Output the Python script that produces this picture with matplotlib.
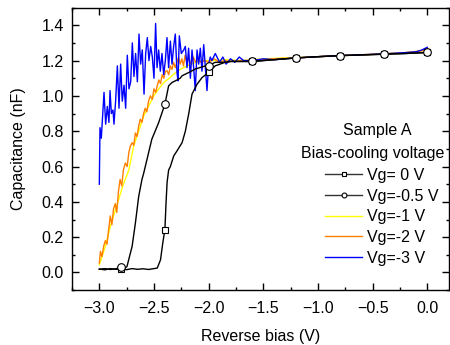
import matplotlib
matplotlib.use("Agg")
import matplotlib.pyplot as plt
import numpy as np

plt.rcParams['font.family'] = ['Liberation Sans', 'DejaVu Sans']
plt.rcParams['font.size'] = 11.5

# Vg = 0 V (black, squares)
v0_x = [-3.00, -2.95, -2.90, -2.85, -2.80, -2.75, -2.70, -2.65, -2.60, -2.55, -2.50,
        -2.47, -2.44, -2.42, -2.40, -2.39, -2.38, -2.366, -2.35, -2.32, -2.29, -2.243,
        -2.213, -2.183, -2.152, -2.106, -2.06, -2.00, -1.94, -1.85, -1.80, -1.60,
        -1.40, -1.20, -1.00, -0.80, -0.60, -0.40, -0.20, 0.00]
v0_y = [0.020, 0.015, 0.022, 0.018, 0.020, 0.016, 0.022, 0.018, 0.021, 0.017, 0.022,
        0.025, 0.072, 0.165, 0.243, 0.39, 0.51, 0.58, 0.60, 0.659, 0.688, 0.735,
        0.80, 0.896, 1.01, 1.066, 1.104, 1.133, 1.17, 1.19, 1.195, 1.195,
        1.205, 1.215, 1.222, 1.228, 1.232, 1.236, 1.240, 1.246]

# Vg = -0.5 V (black, circles)
v05_x = [-3.00, -2.95, -2.90, -2.85, -2.80, -2.77, -2.747, -2.70, -2.67, -2.64, -2.61,
         -2.595, -2.564, -2.52, -2.457, -2.40, -2.366, -2.335, -2.305, -2.26, -2.243,
         -2.18, -2.122, -2.03, -2.00, -1.94, -1.85, -1.80, -1.60, -1.40, -1.20, -1.00,
         -0.80, -0.60, -0.40, -0.20, 0.00]
v05_y = [0.018, 0.022, 0.017, 0.021, 0.030, 0.022, 0.034, 0.148, 0.28, 0.43, 0.527,
         0.56, 0.64, 0.754, 0.849, 0.953, 1.057, 1.076, 1.085, 1.10, 1.114,
         1.133, 1.152, 1.17, 1.172, 1.19, 1.19, 1.195, 1.195, 1.205, 1.215, 1.222,
         1.228, 1.232, 1.236, 1.240, 1.246]

# Vg = -1 V (yellow)
v1_x = [-3.00, -2.97, -2.94, -2.90, -2.86, -2.82, -2.78, -2.73, -2.686, -2.64, -2.595,
        -2.55, -2.503, -2.45, -2.41, -2.36, -2.32, -2.26, -2.20, -2.12, -2.05, -1.95,
        -1.85, -1.70, -1.50, -1.30, -1.00, -0.70, -0.40, -0.20, -0.05, 0.00]
v1_y = [0.044, 0.10, 0.16, 0.26, 0.34, 0.42, 0.50, 0.58, 0.716, 0.80, 0.886,
        0.94, 1.00, 1.045, 1.076, 1.10, 1.123, 1.15, 1.17, 1.19, 1.20, 1.20,
        1.205, 1.20, 1.21, 1.215, 1.222, 1.23, 1.238, 1.245, 1.255, 1.27]

# Vg = -2 V (orange)
v2_x = [-3.00, -2.99, -2.976, -2.96, -2.945, -2.93, -2.915, -2.90, -2.885, -2.87,
        -2.854, -2.84, -2.825, -2.81, -2.795, -2.78, -2.762, -2.745, -2.73, -2.716,
        -2.70, -2.685, -2.67, -2.655, -2.64, -2.625, -2.61, -2.595, -2.58, -2.565,
        -2.55, -2.533, -2.515, -2.50, -2.485, -2.47, -2.455, -2.44, -2.425, -2.41,
        -2.395, -2.38, -2.365, -2.35, -2.335, -2.32, -2.305, -2.29, -2.275, -2.26,
        -2.245, -2.23, -2.215, -2.20, -2.18, -2.16, -2.14, -2.12, -2.10, -2.07,
        -2.04, -2.00, -1.95, -1.90, -1.85, -1.80, -1.70, -1.60, -1.50, -1.40,
        -1.20, -1.00, -0.80, -0.60, -0.40, -0.20, -0.05, 0.00]
v2_y = [0.053, 0.12, 0.09, 0.15, 0.18, 0.16, 0.24, 0.32, 0.27, 0.36,
        0.39, 0.34, 0.46, 0.527, 0.49, 0.58, 0.62, 0.60, 0.68, 0.716,
        0.735, 0.72, 0.79, 0.77, 0.83, 0.868, 0.85, 0.90, 0.93, 0.91,
        0.97, 1.00, 0.98, 1.04, 1.02, 1.057, 1.09, 1.07, 1.12, 1.10,
        1.14, 1.142, 1.12, 1.17, 1.15, 1.19, 1.16, 1.19, 1.22, 1.18,
        1.21, 1.17, 1.23, 1.19, 1.21, 1.18, 1.22, 1.19, 1.21, 1.19,
        1.20, 1.19, 1.21, 1.19, 1.20, 1.195, 1.20, 1.20, 1.205, 1.21,
        1.215, 1.222, 1.228, 1.233, 1.238, 1.245, 1.255, 1.27]

# Vg = -3 V (blue)
v3_x = [-3.000, -2.994, -2.982, -2.957, -2.942, -2.927, -2.912, -2.902, -2.890,
        -2.875, -2.866, -2.851, -2.835, -2.820, -2.805, -2.790, -2.774, -2.759,
        -2.744, -2.729, -2.713, -2.698, -2.683, -2.668, -2.652, -2.637, -2.622,
        -2.607, -2.591, -2.576, -2.561, -2.546, -2.530, -2.515, -2.500, -2.485,
        -2.472, -2.457, -2.442, -2.427, -2.411, -2.396, -2.381, -2.366, -2.350,
        -2.335, -2.320, -2.305, -2.289, -2.280, -2.268, -2.250, -2.228, -2.213,
        -2.198, -2.183, -2.167, -2.152, -2.137, -2.122, -2.106, -2.091, -2.076,
        -2.061, -2.045, -2.030, -2.015, -2.000, -1.985, -1.970, -1.939, -1.90,
        -1.87, -1.84, -1.80, -1.76, -1.72, -1.68, -1.60, -1.50, -1.40, -1.30,
        -1.20, -1.00, -0.80, -0.60, -0.40, -0.20, -0.10, -0.05, 0.00]
v3_y = [0.50, 0.82, 0.76, 1.02, 0.84, 0.94, 0.85, 1.03, 0.90,
        0.92, 0.84, 0.97, 1.17, 0.93, 1.18, 0.97, 1.06, 0.93,
        1.23, 1.04, 1.08, 1.30, 1.11, 1.24, 1.08, 1.35, 1.18,
        1.26, 1.01, 1.24, 1.33, 1.20, 1.28, 1.22, 1.10, 1.41,
        1.16, 1.26, 1.14, 1.24, 1.12, 1.20, 1.33, 1.16, 1.31,
        1.18, 1.28, 1.35, 1.13, 1.085, 1.34, 1.24, 1.26, 1.28,
        1.16, 1.27, 1.10, 1.26, 1.16, 1.03, 1.26, 1.18, 1.27,
        1.14, 1.29, 1.16, 1.03, 1.18, 1.22, 1.20, 1.24, 1.19,
        1.22, 1.18, 1.21, 1.19, 1.22, 1.20, 1.20, 1.21, 1.205, 1.21,
        1.215, 1.222, 1.228, 1.233, 1.238, 1.245, 1.25, 1.26, 1.275]

mark_x = [-2.8, -2.4, -2.0, -1.6, -1.2, -0.8, -0.4, 0.0]
labels = ['Vg= 0 V', 'Vg=-0.5 V', 'Vg=-1 V', 'Vg=-2 V', 'Vg=-3 V']

fig = plt.figure(figsize=(4.5, 3.45), dpi=100)
ax = fig.add_axes([0.16, 0.159, 0.838, 0.819])


def marks(x):
    x = np.round(np.array(x), 3)
    return list(np.where(np.isin(x, mark_x))[0])


ax.plot(v1_x, v1_y, color='#ffff00', lw=1.0, zorder=2)
ax.plot(v2_x, v2_y, color='#ff8000', lw=1.0, zorder=3)
ax.plot(v3_x, v3_y, color='#0000ff', lw=1.0, zorder=4)
ax.plot(v0_x, v0_y, color='black', lw=1.0, marker='s', ms=5,
        mfc='white', mec='black', mew=0.8, markevery=marks(v0_x), zorder=5)
ax.plot(v05_x, v05_y, color='black', lw=1.0, marker='o', ms=5.5,
        mfc='white', mec='black', mew=0.8, markevery=marks(v05_x), zorder=5)

# legend proxies with smaller markers
h0, = ax.plot([], [], color='#333333', lw=1.0, marker='s', ms=3.5, mfc='white', mec='black', mew=0.8)
h05, = ax.plot([], [], color='#333333', lw=1.0, marker='o', ms=3.5, mfc='white', mec='black', mew=0.8)
hs = [h0, h05] + ax.get_lines()[:3]
ax.legend(hs, labels, frameon=False, loc='lower right', bbox_to_anchor=(0.993, 0.058),
          handlelength=2.3, handletextpad=0.3, labelspacing=0.36, numpoints=1,
          borderpad=0, fontsize=11.5)
ax.text(0.81, 0.566, 'Sample A', transform=ax.transAxes, ha='center', va='center')
ax.text(0.797, 0.485, 'Bias-cooling voltage', transform=ax.transAxes, ha='center', va='center')

ax.set_xlim(-3.25, 0.2)
ax.set_ylim(-0.1, 1.5)
ax.set_xticks([-3.0, -2.5, -2.0, -1.5, -1.0, -0.5, 0.0])
ax.set_yticks([0.0, 0.2, 0.4, 0.6, 0.8, 1.0, 1.2, 1.4])
ax.set_xticks(np.arange(-3.25, 0.21, 0.25), minor=True)
ax.set_yticks(np.arange(-0.1, 1.51, 0.1), minor=True)
ax.tick_params(which='both', direction='in', top=True, right=True, width=1)
ax.tick_params(which='major', length=5)
ax.tick_params(axis='x', which='major', pad=8)
ax.tick_params(axis='y', which='major', pad=6)
ax.tick_params(which='minor', length=2.5)
for s in ax.spines.values():
    s.set_linewidth(1.0)

ax.set_xlabel('Reverse bias (V)', labelpad=9)
ax.set_ylabel('Capacitance (nF)', labelpad=11)

fig.savefig('out.png', dpi=100)
